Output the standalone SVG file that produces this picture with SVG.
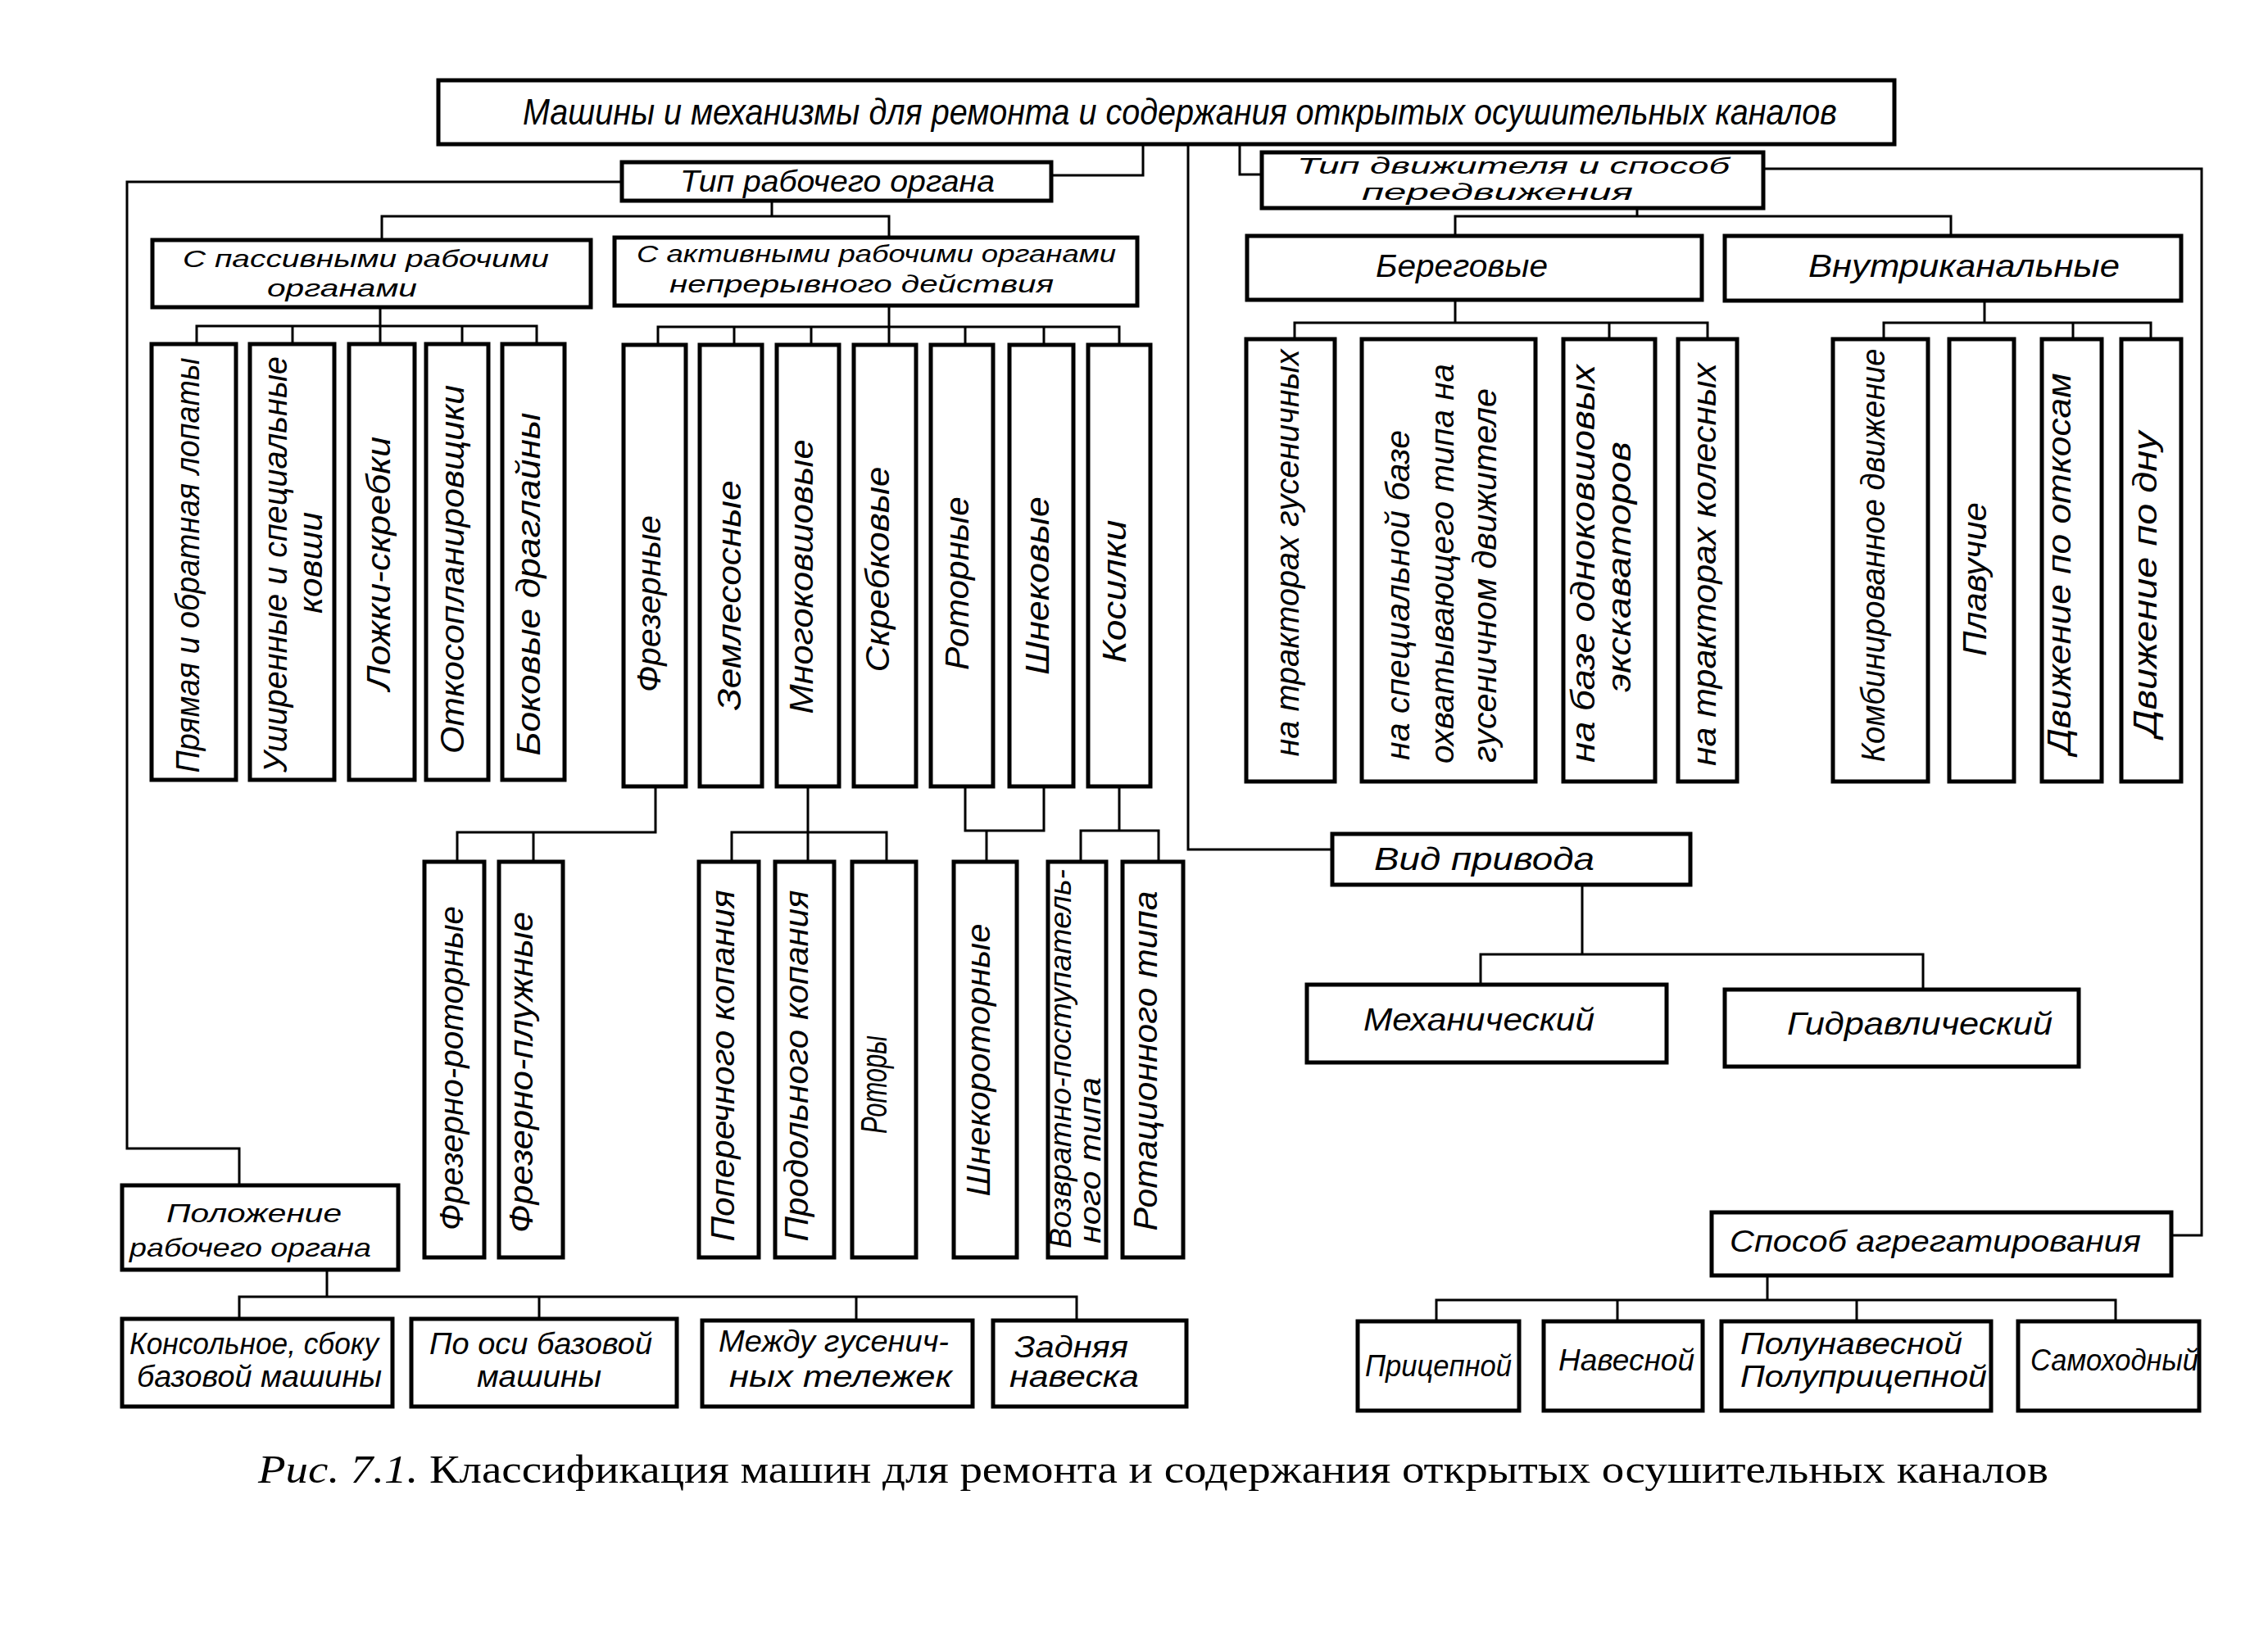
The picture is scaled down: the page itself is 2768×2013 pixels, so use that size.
<svg xmlns="http://www.w3.org/2000/svg" width="2768" height="2013" viewBox="0 0 2768 2013">
<style>
.bx{fill:#fff;stroke:#000;stroke-width:5}
.ln{fill:none;stroke:#000;stroke-width:3}
text{font-family:"Liberation Sans","DejaVu Sans",sans-serif;font-style:italic;fill:#000}
.h{font-size:36px}
.h2{font-size:29px}
.v{font-size:40px;text-anchor:middle}
.vs{font-size:40px;text-anchor:start}
.cap{font-family:"Liberation Serif","DejaVu Serif",serif;font-style:normal;font-size:48px}
</style>
<rect width="2768" height="2013" fill="#fff"/>
<g id="connectors">
<path class="ln" d="M1395 176V214H1283"/>
<path class="ln" d="M759 222H155V1402H292V1447"/>
<path class="ln" d="M942 245V264M466 293V264H1085V290"/>
<path class="ln" d="M464 375V398M240 420V398H655V420M357 398V420M464 398V420M564 398V420"/>
<path class="ln" d="M1085 373V399M803 421V399H1366V421M896 399V421M990 399V421M1085 399V421M1178 399V421M1274 399V421"/>
<path class="ln" d="M1450 176V1037H1626"/>
<path class="ln" d="M1513 176V213H1540"/>
<path class="ln" d="M2152 206H2687V1508H2650"/>
<path class="ln" d="M1998 254V264M1776 288V264H2381V288"/>
<path class="ln" d="M1776 366V394M1580 414V394H2084V414M1964 394V414"/>
<path class="ln" d="M2422 367V394M2299 414V394H2625V414M2530 394V414"/>
<path class="ln" d="M800 960V1016H558V1052M651 1016V1052"/>
<path class="ln" d="M986 960V1016M893 1052V1016H1082V1052M986 1016V1052"/>
<path class="ln" d="M1178 960V1014H1274V960M1204 1014V1052"/>
<path class="ln" d="M1366 960V1014M1319 1052V1014H1414V1052"/>
<path class="ln" d="M1931 1080V1165M1807 1202V1165H2347V1208"/>
<path class="ln" d="M399 1550V1583M292 1610V1583H1314V1612M658 1583V1610M1045 1583V1610"/>
<path class="ln" d="M2157 1557V1587M1753 1613V1587H2582V1613M1974 1587V1613M2266 1587V1613"/>
</g>
<g id="n-main"><rect class="bx" x="535" y="98" width="1777" height="78"/><text class="h" style="font-size:44px" x="638" y="152" textLength="1604" lengthAdjust="spacingAndGlyphs">Машины и механизмы для ремонта и содержания открытых осушительных каналов</text></g>
<g id="n-tip-rab"><rect class="bx" x="759" y="198" width="524" height="47"/><text class="h" x="830" y="234" textLength="384" lengthAdjust="spacingAndGlyphs">Тип рабочего органа</text></g>
<g id="n-passive"><rect class="bx" x="186" y="293" width="535" height="82"/><text class="h2" x="223" y="326" textLength="447" lengthAdjust="spacingAndGlyphs">С пассивными рабочими</text><text class="h2" x="326" y="362" textLength="183" lengthAdjust="spacingAndGlyphs">органами</text></g>
<g id="n-active"><rect class="bx" x="750" y="290" width="638" height="83"/><text class="h2" x="777" y="320" textLength="585" lengthAdjust="spacingAndGlyphs">С активными рабочими органами</text><text class="h2" x="817" y="357" textLength="469" lengthAdjust="spacingAndGlyphs">непрерывного действия</text></g>
<g id="n-tip-dv"><rect class="bx" x="1540" y="186" width="612" height="68"/><text class="h2" style="font-size:28px" x="1583" y="212" textLength="528" lengthAdjust="spacingAndGlyphs">Тип движителя и способ</text><text class="h2" style="font-size:28px" x="1662" y="244" textLength="331" lengthAdjust="spacingAndGlyphs">передвижения</text></g>
<g id="n-bereg"><rect class="bx" x="1522" y="288" width="555" height="78"/><text class="h" style="font-size:38px" x="1679" y="338" textLength="210" lengthAdjust="spacingAndGlyphs">Береговые</text></g>
<g id="n-vnutr"><rect class="bx" x="2105" y="288" width="557" height="79"/><text class="h" style="font-size:38px" x="2207" y="338" textLength="380" lengthAdjust="spacingAndGlyphs">Внутриканальные</text></g>

<g id="n-p1"><rect class="bx" x="185" y="420" width="103" height="532"/><text class="v" transform="translate(243 690) rotate(-90)" textLength="507" lengthAdjust="spacingAndGlyphs">Прямая и обратная лопаты</text></g>
<g id="n-p2"><rect class="bx" x="305" y="420" width="103" height="532"/><text class="v" transform="translate(350 689) rotate(-90)" textLength="508" lengthAdjust="spacingAndGlyphs">Уширенные и специальные</text><text class="v" transform="translate(393 687) rotate(-90)" textLength="124" lengthAdjust="spacingAndGlyphs">ковши</text></g>
<g id="n-p3"><rect class="bx" x="426" y="420" width="80" height="532"/><text class="v" transform="translate(476 688) rotate(-90)" textLength="310" lengthAdjust="spacingAndGlyphs">Ложки-скребки</text></g>
<g id="n-p4"><rect class="bx" x="520" y="420" width="76" height="532"/><text class="v" transform="translate(566 695) rotate(-90)" textLength="450" lengthAdjust="spacingAndGlyphs">Откосопланировщики</text></g>
<g id="n-p5"><rect class="bx" x="613" y="420" width="76" height="532"/><text class="v" transform="translate(659 713) rotate(-90)" textLength="419" lengthAdjust="spacingAndGlyphs">Боковые  драглайны</text></g>

<g id="n-a1"><rect class="bx" x="761" y="421" width="76" height="539"/><text class="v" transform="translate(806 737) rotate(-90)" textLength="216" lengthAdjust="spacingAndGlyphs">Фрезерные</text></g>
<g id="n-a2"><rect class="bx" x="854" y="421" width="76" height="539"/><text class="v" transform="translate(904 727) rotate(-90)" textLength="281" lengthAdjust="spacingAndGlyphs">Землесосные</text></g>
<g id="n-a3"><rect class="bx" x="948" y="421" width="76" height="539"/><text class="v" transform="translate(992 704) rotate(-90)" textLength="335" lengthAdjust="spacingAndGlyphs">Многоковшовые</text></g>
<g id="n-a4"><rect class="bx" x="1042" y="421" width="76" height="539"/><text class="v" transform="translate(1085 695) rotate(-90)" textLength="251" lengthAdjust="spacingAndGlyphs">Скребковые</text></g>
<g id="n-a5"><rect class="bx" x="1136" y="421" width="76" height="539"/><text class="v" transform="translate(1182 712) rotate(-90)" textLength="212" lengthAdjust="spacingAndGlyphs">Роторные</text></g>
<g id="n-a6"><rect class="bx" x="1232" y="421" width="78" height="539"/><text class="v" transform="translate(1280 715) rotate(-90)" textLength="218" lengthAdjust="spacingAndGlyphs">Шнековые</text></g>
<g id="n-a7"><rect class="bx" x="1328" y="421" width="76" height="539"/><text class="v" transform="translate(1374 722) rotate(-90)" textLength="175" lengthAdjust="spacingAndGlyphs">Косилки</text></g>

<g id="n-b1"><rect class="bx" x="1521" y="414" width="108" height="540"/><text class="v" transform="translate(1585 675) rotate(-90)" textLength="497" lengthAdjust="spacingAndGlyphs">на  тракторах гусеничных</text></g>
<g id="n-b2"><rect class="bx" x="1662" y="414" width="212" height="540"/><text class="vs" transform="translate(1720 928) rotate(-90)" textLength="403" lengthAdjust="spacingAndGlyphs">на специальной базе</text><text class="vs" transform="translate(1774 932) rotate(-90)" textLength="488" lengthAdjust="spacingAndGlyphs">охватывающего типа на</text><text class="vs" transform="translate(1826 931) rotate(-90)" textLength="457" lengthAdjust="spacingAndGlyphs">гусеничном движителе</text></g>
<g id="n-b3"><rect class="bx" x="1908" y="414" width="112" height="540"/><text class="vs" transform="translate(1946 931) rotate(-90)" textLength="486" lengthAdjust="spacingAndGlyphs">на базе одноковшовых</text><text class="v" transform="translate(1990 692) rotate(-90)" textLength="306" lengthAdjust="spacingAndGlyphs">экскаваторов</text></g>
<g id="n-b4"><rect class="bx" x="2048" y="414" width="72" height="540"/><text class="v" transform="translate(2094 689) rotate(-90)" textLength="492" lengthAdjust="spacingAndGlyphs">на тракторах колесных</text></g>
<g id="n-v1"><rect class="bx" x="2237" y="414" width="116" height="540"/><text class="v" transform="translate(2300 678) rotate(-90)" textLength="505" lengthAdjust="spacingAndGlyphs">Комбинированное движение</text></g>
<g id="n-v2"><rect class="bx" x="2379" y="414" width="79" height="540"/><text class="v" transform="translate(2424 707) rotate(-90)" textLength="188" lengthAdjust="spacingAndGlyphs">Плавучие</text></g>
<g id="n-v3"><rect class="bx" x="2492" y="414" width="73" height="540"/><text class="v" transform="translate(2527 688) rotate(-90)" textLength="465" lengthAdjust="spacingAndGlyphs">Движение по откосам</text></g>
<g id="n-v4"><rect class="bx" x="2589" y="414" width="73" height="540"/><text class="v" transform="translate(2632 713) rotate(-90)" textLength="373" lengthAdjust="spacingAndGlyphs">Движение по дну</text></g>

<g id="n-f1"><rect class="bx" x="518" y="1052" width="73" height="483"/><text class="v" transform="translate(565 1304) rotate(-90)" textLength="396" lengthAdjust="spacingAndGlyphs">Фрезерно-роторные</text></g>
<g id="n-f2"><rect class="bx" x="609" y="1052" width="78" height="483"/><text class="v" transform="translate(650 1309) rotate(-90)" textLength="392" lengthAdjust="spacingAndGlyphs">Фрезерно-плужные</text></g>
<g id="n-m1"><rect class="bx" x="853" y="1052" width="73" height="483"/><text class="v" transform="translate(896 1301) rotate(-90)" textLength="429" lengthAdjust="spacingAndGlyphs">Поперечного копания</text></g>
<g id="n-m2"><rect class="bx" x="946" y="1052" width="72" height="483"/><text class="v" transform="translate(986 1301) rotate(-90)" textLength="429" lengthAdjust="spacingAndGlyphs">Продольного копания</text></g>
<g id="n-m3"><rect class="bx" x="1040" y="1052" width="78" height="483"/><text class="v" style="font-size:44px" transform="translate(1082 1324) rotate(-90)" textLength="120" lengthAdjust="spacingAndGlyphs">Роторы</text></g>
<g id="n-s1"><rect class="bx" x="1164" y="1052" width="77" height="483"/><text class="v" transform="translate(1208 1294) rotate(-90)" textLength="333" lengthAdjust="spacingAndGlyphs">Шнекороторные</text></g>
<g id="n-k1"><rect class="bx" x="1279" y="1052" width="71" height="483"/><text class="vs" style="font-size:36px" transform="translate(1307 1524) rotate(-90)" textLength="463" lengthAdjust="spacingAndGlyphs">Возвратно-поступатель-</text><text class="vs" style="font-size:36px" transform="translate(1343 1518) rotate(-90)" textLength="203" lengthAdjust="spacingAndGlyphs">ного типа</text></g>
<g id="n-k2"><rect class="bx" x="1370" y="1052" width="74" height="483"/><text class="v" transform="translate(1412 1295) rotate(-90)" textLength="415" lengthAdjust="spacingAndGlyphs">Ротационного типа</text></g>

<g id="n-vid"><rect class="bx" x="1626" y="1018" width="437" height="62"/><text class="h" style="font-size:38px" x="1677" y="1062" textLength="269" lengthAdjust="spacingAndGlyphs">Вид привода</text></g>
<g id="n-mech"><rect class="bx" x="1595" y="1202" width="439" height="95"/><text class="h" style="font-size:38px" x="1664" y="1258" textLength="282" lengthAdjust="spacingAndGlyphs">Механический</text></g>
<g id="n-gidr"><rect class="bx" x="2105" y="1208" width="432" height="94"/><text class="h" style="font-size:38px" x="2181" y="1263" textLength="324" lengthAdjust="spacingAndGlyphs">Гидравлический</text></g>

<g id="n-polozh"><rect class="bx" x="149" y="1447" width="337" height="103"/><text class="h" style="font-size:32px" x="203" y="1492" textLength="214" lengthAdjust="spacingAndGlyphs">Положение</text><text class="h" style="font-size:32px" x="158" y="1534" textLength="295" lengthAdjust="spacingAndGlyphs">рабочего органа</text></g>
<g id="n-pos1"><rect class="bx" x="149" y="1610" width="330" height="107"/><text class="h" x="158" y="1653" textLength="304" lengthAdjust="spacingAndGlyphs">Консольное, сбоку</text><text class="h" x="167" y="1693" textLength="299" lengthAdjust="spacingAndGlyphs">базовой  машины</text></g>
<g id="n-pos2"><rect class="bx" x="502" y="1610" width="324" height="107"/><text class="h" x="524" y="1653" textLength="272" lengthAdjust="spacingAndGlyphs">По оси базовой</text><text class="h" x="582" y="1693" textLength="152" lengthAdjust="spacingAndGlyphs">машины</text></g>
<g id="n-pos3"><rect class="bx" x="857" y="1612" width="330" height="105"/><text class="h" x="877" y="1650" textLength="281" lengthAdjust="spacingAndGlyphs">Между гусенич-</text><text class="h" x="890" y="1693" textLength="272" lengthAdjust="spacingAndGlyphs">ных тележек</text></g>
<g id="n-pos4"><rect class="bx" x="1212" y="1612" width="236" height="105"/><text class="h" x="1238" y="1657" textLength="139" lengthAdjust="spacingAndGlyphs">Задняя</text><text class="h" x="1232" y="1693" textLength="158" lengthAdjust="spacingAndGlyphs">навеска</text></g>

<g id="n-sposob"><rect class="bx" x="2089" y="1480" width="561" height="77"/><text class="h" x="2111" y="1528" textLength="502" lengthAdjust="spacingAndGlyphs">Способ агрегатирования</text></g>
<g id="n-ag1"><rect class="bx" x="1657" y="1613" width="197" height="109"/><text class="h" x="1666" y="1680" textLength="179" lengthAdjust="spacingAndGlyphs">Прицепной</text></g>
<g id="n-ag2"><rect class="bx" x="1884" y="1613" width="194" height="109"/><text class="h" x="1902" y="1673" textLength="166" lengthAdjust="spacingAndGlyphs">Навесной</text></g>
<g id="n-ag3"><rect class="bx" x="2101" y="1613" width="329" height="109"/><text class="h" x="2124" y="1653" textLength="271" lengthAdjust="spacingAndGlyphs">Полунавесной</text><text class="h" x="2124" y="1693" textLength="301" lengthAdjust="spacingAndGlyphs">Полуприцепной</text></g>
<g id="n-ag4"><rect class="bx" x="2463" y="1613" width="221" height="109"/><text class="h" x="2478" y="1673" textLength="205" lengthAdjust="spacingAndGlyphs">Самоходный</text></g>

<g id="caption"><text class="cap" x="315" y="1810" textLength="2185" lengthAdjust="spacingAndGlyphs"><tspan font-style="italic">Рис. 7.1.</tspan> Классификация машин для ремонта и содержания  открытых  осушительных каналов</text></g>
</svg>
